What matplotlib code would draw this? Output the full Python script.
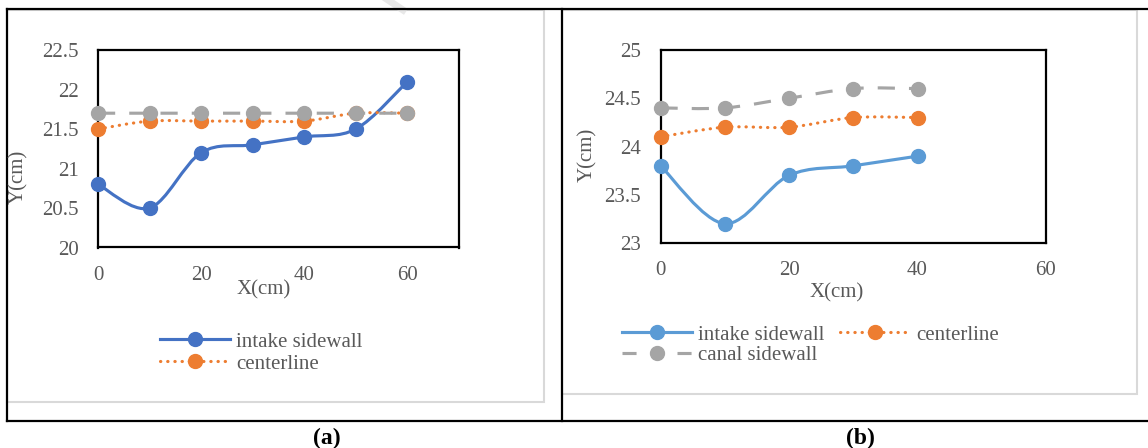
import numpy as np
import matplotlib.pyplot as plt
from matplotlib.path import Path
from matplotlib.patches import PathPatch, Rectangle
from matplotlib.lines import Line2D

plt.rcParams['font.family'] = ['Liberation Serif', 'DejaVu Serif']

# panel (a)
x_a = [0, 10, 20, 30, 40, 50, 60]
intake_a = [20.8, 20.5, 21.2, 21.3, 21.4, 21.5, 22.1]
center_a = [21.5, 21.6, 21.6, 21.6, 21.6, 21.7, 21.7]
canal_a = [21.7, 21.7, 21.7, 21.7, 21.7, 21.7, 21.7]

# panel (b)
x_b = [0, 10, 20, 30, 40]
intake_b = [23.8, 23.2, 23.7, 23.8, 23.9]
center_b = [24.1, 24.2, 24.2, 24.3, 24.3]
canal_b = [24.4, 24.4, 24.5, 24.6, 24.6]

W, H = 1148, 448
GREY_TXT = '#595959'
ORANGE = '#ED7D31'
GREY = '#A5A5A5'

DOT = (0, (0.1, 2.2))
DASH = (0, (5.5, 4.5))
DASH_LEG = (0, (4.5, 4.3))


def fx(px):
    return px / W


def fy(py):
    return 1 - py / H


def smooth_path(x, y):
    # excel-like smoothed line: cubic bezier through the points
    p = np.column_stack([x, y]).astype(float)
    n = len(p)
    verts = [p[0]]
    codes = [Path.MOVETO]
    for i in range(n - 1):
        p0 = p[i - 1] if i > 0 else p[i]
        p3 = p[i + 2] if i + 2 < n else p[i + 1]
        c1 = p[i] + (p[i + 1] - p0) / 6
        c2 = p[i + 1] - (p3 - p[i]) / 6
        verts += [c1, c2, p[i + 1]]
        codes += [Path.CURVE4] * 3
    return Path(verts, codes)


def draw_series(ax, x, y, color, ls, z):
    cap = 'round' if ls == DOT else 'butt'
    patch = PathPatch(smooth_path(x, y), fill=False, edgecolor=color, lw=2.25,
                      linestyle=ls, capstyle=cap, zorder=z, clip_on=False)
    ax.add_patch(patch)
    ax.plot(x, y, 'o', color=color, ms=10, zorder=z + 0.5, clip_on=False)


def setup_axes(ax, xmax, ylo, yhi):
    ax.set_xlim(0, xmax)
    ax.set_ylim(ylo, yhi)
    ax.set_xticks([0, 20, 40, 60])
    yt = np.arange(ylo, yhi + 0.01, 0.5)
    ax.set_yticks(yt)
    ax.set_yticklabels(['%g' % v for v in yt])
    ax.tick_params(length=0, labelsize=15, colors=GREY_TXT)
    ax.tick_params(axis='y', pad=14)
    ax.tick_params(axis='x', pad=13)
    for s in ax.spines.values():
        s.set_color('black')
        s.set_linewidth(1.6)


def handle(color, ls):
    return Line2D([], [], color=color, lw=2.25, ls=ls, marker='o', ms=10,
                  dash_capstyle='round' if ls == DOT else 'butt')


fig = plt.figure(figsize=(W / 100, H / 100), dpi=100)

# frames around the panels
fig.add_artist(Line2D([fx(385), fx(403)], [fy(-2), fy(10)], color='#E8E8E8', lw=5))
fig.add_artist(Rectangle((fx(7), fy(402)), fx(544) - fx(7), fy(10) - fy(402),
                         fill=False, edgecolor='#D9D9D9', lw=1.5))
fig.add_artist(Rectangle((fx(562), fy(394)), fx(1137) - fx(562), fy(10) - fy(394),
                         fill=False, edgecolor='#D9D9D9', lw=1.5))
for xs, ys in [([7, 1148], [9.5, 9.5]), ([7, 1148], [421, 421]),
               ([7, 7], [9.5, 421]), ([562, 562], [9.5, 421])]:
    fig.add_artist(Line2D([fx(v) for v in xs], [fy(v) for v in ys], color='black', lw=1.6))

# (a)
ax1 = fig.add_axes([fx(98), fy(247.5), fx(459) - fx(98), fy(50) - fy(247.5)])
setup_axes(ax1, 70, 20, 22.5)
draw_series(ax1, x_a, intake_a, '#4472C4', '-', 3)
draw_series(ax1, x_a, center_a, ORANGE, DOT, 4)
draw_series(ax1, x_a, canal_a, GREY, DASH, 5)
fig.text(fx(264), fy(290), 'X(cm)', ha='center', va='center', fontsize=15, color=GREY_TXT)
fig.text(fx(19), fy(177), 'Y(cm)', ha='center', va='center', fontsize=15, color=GREY_TXT, rotation=90)
fig.legend([handle('#4472C4', '-'), handle(ORANGE, DOT)], ['intake sidewall', 'centerline'],
           loc='upper left', bbox_to_anchor=(fx(160), fy(332)), frameon=False, fontsize=15,
           handlelength=3.35, handletextpad=0.3, labelspacing=0.12,
           borderpad=0, borderaxespad=0, labelcolor=GREY_TXT, numpoints=1)

# (b)
ax2 = fig.add_axes([fx(660.5), fy(243), fx(1046) - fx(660.5), fy(50) - fy(243)])
setup_axes(ax2, 60, 23, 25)
draw_series(ax2, x_b, intake_b, '#5B9BD5', '-', 3)
draw_series(ax2, x_b, center_b, ORANGE, DOT, 4)
draw_series(ax2, x_b, canal_b, GREY, DASH, 5)
fig.text(fx(837), fy(293), 'X(cm)', ha='center', va='center', fontsize=15, color=GREY_TXT)
fig.text(fx(588), fy(155), 'Y(cm)', ha='center', va='center', fontsize=15, color=GREY_TXT, rotation=90)
fig.legend([handle('#5B9BD5', '-'), handle(GREY, DASH_LEG), handle(ORANGE, DOT)],
           ['intake sidewall', 'canal sidewall', 'centerline'], loc='upper left', ncol=2,
           bbox_to_anchor=(fx(622), fy(325)), frameon=False, fontsize=15,
           handlelength=3.35, handletextpad=0.3, labelspacing=0.05, columnspacing=0.75,
           borderpad=0, borderaxespad=0, labelcolor=GREY_TXT, numpoints=1)

fig.text(fx(327), fy(438), '(a)', ha='center', va='center', fontsize=17, fontweight='bold')
fig.text(fx(860), fy(438), '(b)', ha='center', va='center', fontsize=17, fontweight='bold')

fig.savefig('out.png', dpi=100, facecolor='white')
